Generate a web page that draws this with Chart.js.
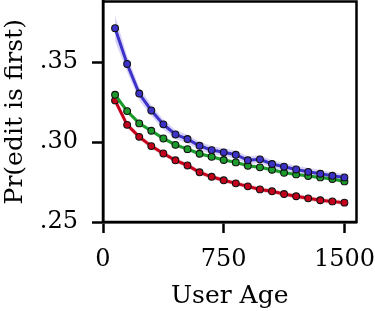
<!DOCTYPE html>
<html>
<head>
<meta charset="utf-8">
<script src="https://cdn.jsdelivr.net/npm/chart.js@4"></script>
<style>
  html, body { margin: 0; padding: 0; background: #fff; }
  #wrap { width: 375px; height: 311px; }
</style>
</head>
<body>
<div id="wrap"><canvas id="chart" width="375" height="311"></canvas></div>
<script>
// user age buckets
const ages = [75, 150, 225, 300, 375, 450, 525, 600, 675, 750, 825, 900, 975, 1050, 1125, 1200, 1275, 1350, 1425, 1500];

const blueVals = [0.3713, 0.3489, 0.3304, 0.3198, 0.3111, 0.3048, 0.3019, 0.2977, 0.2950, 0.2936,
                  0.2921, 0.2886, 0.2892, 0.2863, 0.2846, 0.2829, 0.2814, 0.2802, 0.2789, 0.2779];
const greenVals = [0.3296, 0.3194, 0.3117, 0.3071, 0.3023, 0.2983, 0.2956, 0.2927, 0.2908, 0.2888,
                   0.2873, 0.2852, 0.2842, 0.2827, 0.2808, 0.2798, 0.2788, 0.2779, 0.2769, 0.2754];
const redVals = [0.3261, 0.3108, 0.3033, 0.2975, 0.2929, 0.2886, 0.2854, 0.2811, 0.2783, 0.2761,
                 0.2742, 0.2723, 0.2704, 0.2692, 0.2675, 0.2661, 0.2648, 0.2636, 0.2629, 0.2621];

// half width of the shaded bands
const blueErr = [0.0080, 0.0050, 0.0040, 0.0034, 0.0030, 0.0028, 0.0027, 0.0026, 0.0025, 0.0025,
                 0.0025, 0.0025, 0.0025, 0.0024, 0.0024, 0.0024, 0.0024, 0.0023, 0.0023, 0.0023];
const greenErr = [0.0022, 0.0017, 0.0015, 0.0014, 0.0013, 0.0013, 0.0012, 0.0012, 0.0012, 0.0012,
                  0.0012, 0.0012, 0.0012, 0.0012, 0.0012, 0.0012, 0.0012, 0.0012, 0.0012, 0.0012];
const redErr = [0.0028, 0.0020, 0.0017, 0.0016, 0.0015, 0.0015, 0.0015, 0.0015, 0.0015, 0.0015,
                0.0015, 0.0015, 0.0015, 0.0015, 0.0015, 0.0015, 0.0015, 0.0015, 0.0015, 0.0015];

const xTicks = [0, 750, 1500];
const yTicks = [0.25, 0.30, 0.35];

const azul = '#3d32c8';
const verde = '#1c9a2c';
const vermelho = '#c5001c';

const fonte = { family: 'DejaVu Serif', size: 24 };
const fonteTitulo = { family: 'DejaVu Serif', size: 25 };

function pts(vals, err, sign) {
  return ages.map((a, i) => ({ x: a, y: vals[i] + sign * err[i] }));
}

function banda(vals, err, cor, ordem) {
  return [
    { data: pts(vals, err, -1), pointRadius: 0, borderWidth: 0, fill: false, order: ordem },
    { data: pts(vals, err, 1), pointRadius: 0, borderWidth: 0, fill: '-1', backgroundColor: cor, order: ordem }
  ];
}

function linha(vals, cor, ordem) {
  return {
    data: ages.map((a, i) => ({ x: a, y: vals[i] })),
    borderColor: cor,
    backgroundColor: cor,
    borderWidth: 3,
    pointRadius: 3.4,
    pointBorderWidth: 1.1,
    pointBorderColor: '#111',
    pointBackgroundColor: cor,
    tension: 0,
    fill: false,
    order: ordem
  };
}

const moldura = {
  id: 'moldura',
  afterDraw(chart) {
    const { ctx, chartArea: a } = chart;
    ctx.save();
    ctx.strokeStyle = '#000';
    ctx.lineWidth = 2.5;
    ctx.strokeRect(a.left, a.top, a.right - a.left, a.bottom - a.top);
    ctx.restore();
  }
};

new Chart(document.getElementById('chart'), {
  type: 'line',
  data: {
    datasets: [
      ...banda(redVals, redErr, 'rgba(230,120,130,0.35)', 10),
      ...banda(greenVals, greenErr, 'rgba(110,200,120,0.35)', 9),
      ...banda(blueVals, blueErr, 'rgba(140,130,235,0.35)', 8),
      linha(redVals, vermelho, 3),
      linha(greenVals, verde, 2),
      linha(blueVals, azul, 1)
    ]
  },
  options: {
    responsive: false,
    animation: false,
    layout: { autoPadding: false, padding: { top: 1.5, right: 18.5, left: 0, bottom: 0 } },
    plugins: { legend: { display: false }, tooltip: { enabled: false } },
    scales: {
      x: {
        type: 'linear',
        min: 0,
        max: 1575,
        afterBuildTicks: s => { s.ticks = xTicks.map(v => ({ value: v })); },
        afterFit: s => { s.height = 89; s.paddingLeft = 0; s.paddingRight = 0; },
        grid: { drawOnChartArea: false, tickLength: 11, tickWidth: 2.5, tickColor: '#000' },
        border: { display: true, color: '#000', width: 2.5 },
        ticks: { color: '#000', font: fonte, padding: 12, maxRotation: 0, callback: v => String(v) },
        title: { display: true, text: 'User Age', color: '#000', font: fonteTitulo, padding: { top: 0, bottom: 0 } }
      },
      y: {
        type: 'linear',
        min: 0.25,
        max: 0.388,
        afterBuildTicks: s => { s.ticks = yTicks.map(v => ({ value: v })); },
        afterFit: s => { s.width = 103; s.paddingTop = 0; s.paddingBottom = 0; },
        grid: { drawOnChartArea: false, tickLength: 11, tickWidth: 2.5, tickColor: '#000' },
        border: { display: true, color: '#000', width: 2.5 },
        ticks: { color: '#000', font: fonte, padding: 14, callback: v => v.toFixed(2).replace(/^0/, '') },
        title: { display: true, text: 'Pr(edit is first)', color: '#000', font: fonteTitulo, padding: { top: 0, bottom: 0 } }
      }
    }
  },
  plugins: [moldura]
});
</script>
</body>
</html>
